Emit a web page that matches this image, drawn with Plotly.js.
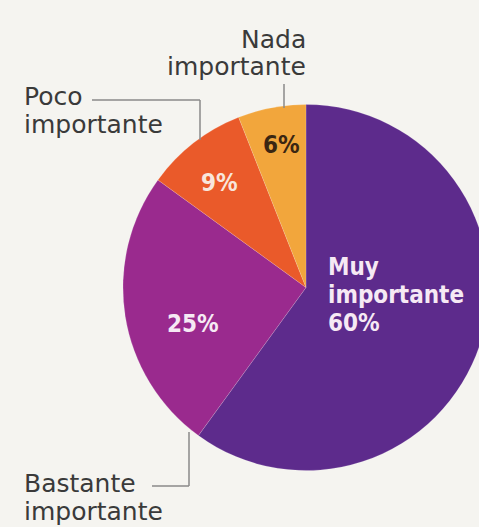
<!DOCTYPE html>
<html><head><meta charset="utf-8">
<script src="https://cdn.plot.ly/plotly-3.0.1.min.js"></script>
<style>html,body{margin:0;padding:0;overflow:hidden;background:#f5f4f0;width:479px;height:527px}#c{width:490px;height:527px}</style>
</head><body><div id="c"></div>
<script>
const categories = ['Muy importante', 'Bastante importante', 'Poco importante', 'Nada importante'];
const values = [60, 25, 9, 6];
const colors = ['#5d2b8c', '#9a2a8e', '#ea5a2a', '#f2a63c'];

const W = 490, H = 527;
const FONT_OUT = '"DejaVu Sans", sans-serif';
const FONT_IN = '"DejaVu Sans Condensed", "DejaVu Sans", sans-serif';
const px = x => x / W, py = y => 1 - y / H;
const pct = v => v + '%';
const words = s => s.split(' ');

const trace = {
  type: 'pie', labels: categories, values: values, sort: false,
  direction: 'clockwise', rotation: 0, textinfo: 'none', hoverinfo: 'label+percent',
  marker: {colors: colors, line: {color: 'rgba(255,255,255,0.25)', width: 0.6}},
  domain: {x: [px(123), px(489)], y: [py(470.5), py(104.5)]},
  showlegend: false
};

const insideWhite = '#f6e9f4';
const outCol = '#3a3a3a';
const ann = [];
function line(x, y, text, anchor, size, color, family, bold) {
  ann.push({xref: 'paper', yref: 'paper', showarrow: false, x: px(x), y: py(y),
    xanchor: anchor, yanchor: 'middle', text: bold ? '<b>' + text + '</b>' : text,
    font: {family: family, size: size, color: color}});
}
// inside labels
const muy = words(categories[0]).concat([pct(values[0])]);
muy.forEach((t, i) => line(326, 266.5 + 28 * i, t, 'left', 24, insideWhite, FONT_IN, true));
line(193, 323.5, pct(values[1]), 'center', 24, insideWhite, FONT_IN, true);
line(219, 183.5, pct(values[2]), 'center', 24, '#f8e6dc', FONT_IN, true);
line(281.5, 144.5, pct(values[3]), 'center', 24, '#3b2612', FONT_IN, true);
// outside labels
words(categories[3]).forEach((t, i) => line(308, 39.5 + 27 * i, t, 'right', 25, outCol, FONT_OUT, false));
words(categories[2]).forEach((t, i) => line(22, 96.5 + 28 * i, t, 'left', 25, outCol, FONT_OUT, false));
words(categories[1]).forEach((t, i) => line(22, 483.5 + 28 * i, t, 'left', 25, outCol, FONT_OUT, false));

const ln = {color: '#8a8a8a', width: 1.5};
const seg = (x0, y0, x1, y1) => ({type: 'line', xref: 'paper', yref: 'paper',
  x0: px(x0), y0: py(y0), x1: px(x1), y1: py(y1), line: ln});
const shapes = [
  seg(284, 84, 284, 108),
  seg(92, 100, 200, 100), seg(200, 100, 200, 140),
  seg(152, 486, 189, 486), seg(189, 486, 189, 432)
];

Plotly.newPlot('c', [trace], {
  width: W, height: H, margin: {l: 0, r: 0, t: 0, b: 0},
  paper_bgcolor: '#f5f4f0', plot_bgcolor: '#f5f4f0',
  annotations: ann, shapes: shapes
}, {staticPlot: true});
</script></body></html>
